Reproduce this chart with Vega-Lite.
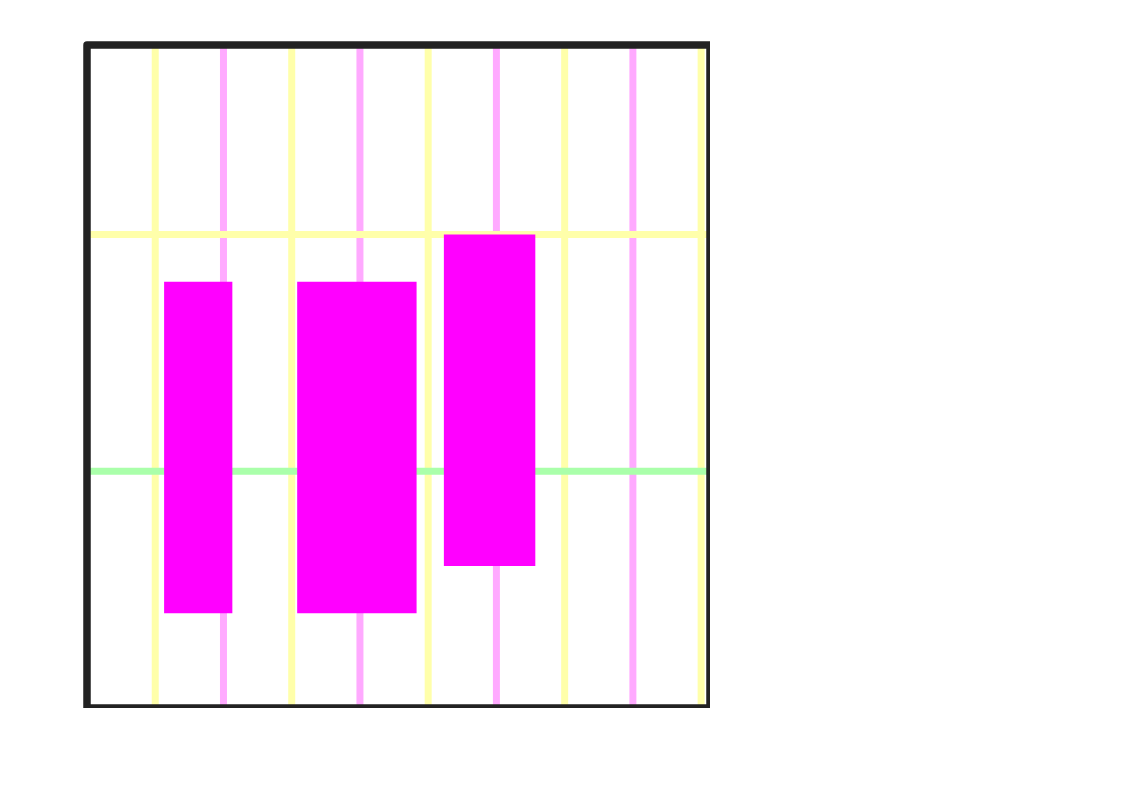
{
  "$schema": "https://vega.github.io/schema/vega-lite/v6.json",
  "autosize": "none",
  "padding": {"left": 87, "top": 45, "right": 0, "bottom": 0},
  "width": 623,
  "height": 663,
  "background": "white",
  "config": {"view": {"stroke": null}},
  "datasets": {
    "vgrid": [
      {"x": 2, "kind": "minor"}, {"x": 4, "kind": "minor"}, {"x": 6, "kind": "minor"}, {"x": 8, "kind": "minor"},
      {"x": 1, "kind": "major"}, {"x": 3, "kind": "major"}, {"x": 5, "kind": "major"}, {"x": 7, "kind": "major"}, {"x": 9, "kind": "major"}
    ],
    "hgrid": [
      {"y": 2, "kind": "major"},
      {"y": 1, "kind": "reference"}
    ],
    "bars": [
      {"x": 1.13, "x2": 2.13, "y": 0.4, "y2": 1.8},
      {"x": 3.08, "x2": 4.83, "y": 0.4, "y2": 1.8},
      {"x": 5.23, "x2": 6.57, "y": 0.6, "y2": 2.0}
    ],
    "frame": [
      {"x": 0, "x2": 9.13, "y": 0, "y2": 2.8}
    ]
  },
  "layer": [
    {
      "data": {"name": "vgrid"},
      "mark": {"type": "rule", "strokeWidth": 7},
      "encoding": {
        "x": {"field": "x", "type": "quantitative", "scale": {"domain": [0, 9.13], "nice": false, "zero": false}, "axis": null},
        "color": {"field": "kind", "type": "nominal", "scale": {"domain": ["minor", "major", "reference"], "range": ["#ffaaff", "#ffffaa", "#aaffaa"]}, "legend": null}
      }
    },
    {
      "data": {"name": "hgrid"},
      "mark": {"type": "rule", "strokeWidth": 7},
      "encoding": {
        "y": {"field": "y", "type": "quantitative", "scale": {"domain": [0, 2.8], "nice": false, "zero": false}, "axis": null},
        "color": {"field": "kind", "type": "nominal", "legend": null}
      }
    },
    {
      "data": {"name": "bars"},
      "mark": {"type": "rect", "fill": "#ff00ff"},
      "encoding": {
        "x": {"field": "x", "type": "quantitative"},
        "x2": {"field": "x2"},
        "y": {"field": "y", "type": "quantitative"},
        "y2": {"field": "y2"}
      }
    },
    {
      "data": {"name": "frame"},
      "mark": {"type": "rect", "fill": null, "fillOpacity": 0, "stroke": "#222222", "strokeWidth": 7.5, "strokeJoin": "round", "clip": false},
      "encoding": {
        "x": {"field": "x", "type": "quantitative"},
        "x2": {"field": "x2"},
        "y": {"field": "y", "type": "quantitative"},
        "y2": {"field": "y2"}
      }
    }
  ]
}
